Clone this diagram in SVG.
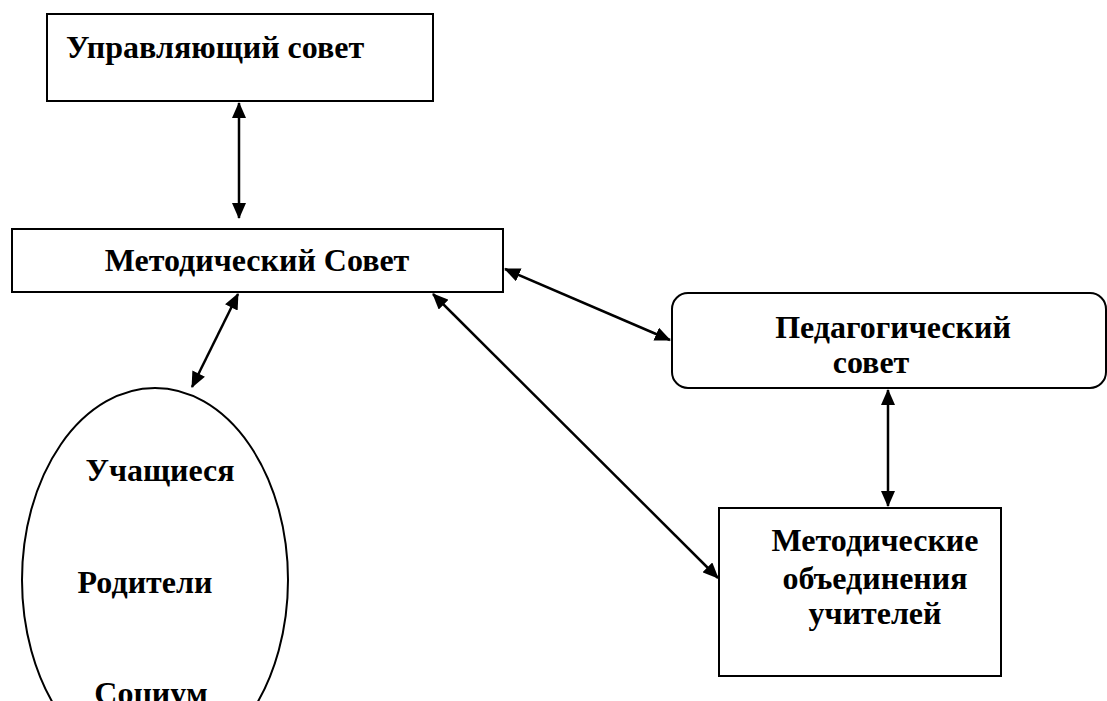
<svg xmlns="http://www.w3.org/2000/svg" width="1107" height="701" viewBox="0 0 1107 701">
<style>
.box{fill:#fff;stroke:#000;stroke-width:2}
.t{font-family:"Liberation Serif","Times New Roman",serif;font-weight:bold;font-size:32px;fill:#000}
.c{fill:none;stroke:#000;stroke-width:2.5}
</style>
<defs>
<marker id="ah" markerUnits="userSpaceOnUse" markerWidth="16" markerHeight="14" refX="15" refY="7" orient="auto-start-reverse" viewBox="0 0 16 14">
<path d="M0,0 L16,7 L0,14 z" fill="#000"/>
</marker>
</defs>
<rect width="1107" height="701" fill="#fff"/>
<g id="upr-sovet">
<rect class="box" x="47" y="14" width="386" height="87"/>
<text class="t" x="66" y="58">Управляющий совет</text>
</g>
<g id="metod-sovet">
<rect class="box" x="12" y="229" width="491" height="63"/>
<text class="t" x="257" y="271" text-anchor="middle">Методический Совет</text>
</g>
<g id="ped-sovet">
<rect class="box" x="672" y="293" width="434" height="95" rx="16" ry="16"/>
<text class="t" x="893" y="338" text-anchor="middle">Педагогический</text>
<text class="t" x="871" y="373" text-anchor="middle">совет</text>
</g>
<g id="mo-uchiteley">
<rect class="box" x="719" y="508" width="282" height="168"/>
<text class="t" x="875" y="551" text-anchor="middle">Методические</text>
<text class="t" x="875" y="589" text-anchor="middle">объединения</text>
<text class="t" x="875" y="624" text-anchor="middle">учителей</text>
</g>
<g id="socium">
<ellipse cx="155" cy="580" rx="133" ry="192" fill="none" stroke="#000" stroke-width="2"/>
<text class="t" x="160" y="481" text-anchor="middle">Учащиеся</text>
<text class="t" x="145" y="593" text-anchor="middle">Родители</text>
<text class="t" x="151" y="704" text-anchor="middle">Социум</text>
</g>
<g id="connectors">
<line class="c" x1="239" y1="103" x2="239" y2="218" marker-start="url(#ah)" marker-end="url(#ah)"/>
<line class="c" x1="238" y1="294" x2="192" y2="387" marker-start="url(#ah)" marker-end="url(#ah)"/>
<line class="c" x1="505" y1="269" x2="670" y2="340" marker-start="url(#ah)" marker-end="url(#ah)"/>
<line class="c" x1="433" y1="294" x2="718" y2="578" marker-start="url(#ah)" marker-end="url(#ah)"/>
<line class="c" x1="888" y1="390" x2="888" y2="506" marker-start="url(#ah)" marker-end="url(#ah)"/>
</g>
</svg>
